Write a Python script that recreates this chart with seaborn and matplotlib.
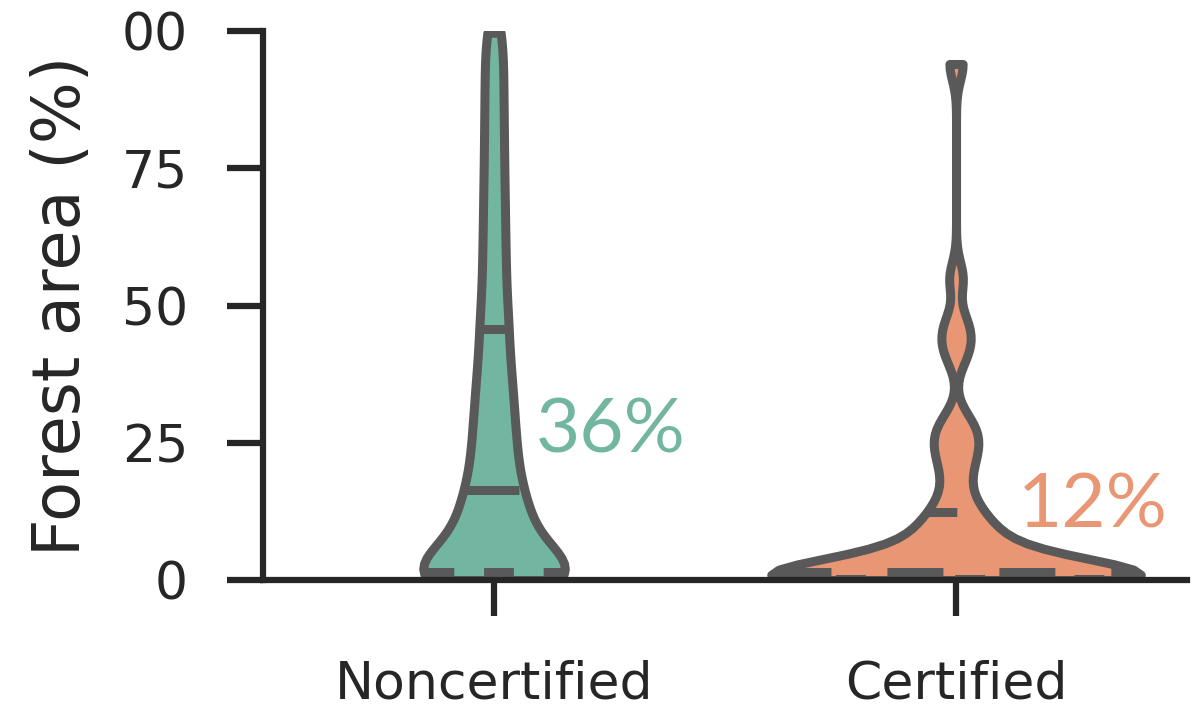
import matplotlib
matplotlib.use("Agg")
import matplotlib.pyplot as plt
import seaborn as sns
import pandas as pd

# categories and observed forest-area shares (%)
groups = ["Noncertified", "Certified"]

noncertified = [0.0, 0.0, 0.0, 0.1, 0.2, 0.3, 0.5, 0.6, 0.8, 1.0, 1.2, 1.4,
                1.6, 2.8, 4.0, 5.2, 6.4, 7.7, 9.0, 10.3, 11.6, 12.9, 14.1, 15.2,
                17.6, 19.5, 21.5, 23.6, 25.8, 28.1, 30.5, 33.0, 35.6, 38.4, 41.4, 45.0,
                48.0, 51.9, 56.0, 60.2, 64.6, 69.1, 73.8, 78.7, 83.7, 88.9, 94.2, 99.7]

certified = [0.0, 0.0, 0.0, 0.0, 0.0, 0.0, 0.0, 0.0, 0.05, 0.1, 0.15, 0.2,
             0.3, 0.4, 0.5, 0.6, 0.7, 0.8, 0.9, 1.0, 1.1, 1.2, 1.25, 1.3,
             1.5, 2.3, 3.1, 3.9, 4.7, 5.5, 6.3, 7.1, 8.0, 9.0, 10.5, 12.0,
             13.6, 17.0, 20.5, 23.0, 25.0, 27.0, 29.0, 41.0, 44.0, 47.0, 55.0, 94.0]

share_labels = ["36%", "12%"]
yticks = [0, 25, 50, 75, 100]
ytick_labels = ["0", "25", "50", "75", "00"]

df = pd.DataFrame({
    "group": [groups[0]] * len(noncertified) + [groups[1]] * len(certified),
    "area": noncertified + certified,
})

sns.set_theme(style="ticks")
plt.rcParams["font.family"] = ["DejaVu Sans"]

fig = plt.figure(figsize=(11.96, 7.09), dpi=100)
ax = fig.add_axes([0.2199, 0.1819, 0.7726, 0.7743])

pal = sns.color_palette("Set2", 2)
sns.violinplot(data=df, x="group", y="area", hue="group", order=groups,
               hue_order=groups, palette=pal, cut=0, inner="quart",
               bw_adjust=0.35, width=0.8, linewidth=6.5, linecolor="#595959",
               common_norm=True, legend=False, ax=ax)

# quartile lines: short dashes, median: long dashes
for i, line in enumerate(ax.lines):
    line.set_linewidth(6.5)
    if i % 3 == 1:
        line.set_linestyle((0, (6.2, 6.2)))
    else:
        line.set_linestyle((0, (3.3, 3.3)))

ax.set_ylim(0, 100)
ax.set_xlim(-0.5, 1.5)
ax.set_yticks(yticks)
ax.set_yticklabels(ytick_labels)
ax.set_xlabel("")
ax.set_ylabel("Forest area (%)", fontsize=47, color="#262626", labelpad=20)

for side in ["top", "right"]:
    ax.spines[side].set_visible(False)
for side in ["left", "bottom"]:
    ax.spines[side].set_linewidth(4.5)
    ax.spines[side].set_color("#262626")

ax.tick_params(axis="both", length=26, width=4.5, color="#262626",
               labelsize=37.5, labelcolor="#262626")
ax.tick_params(axis="y", pad=28)
ax.tick_params(axis="x", pad=31)

text_colors = [sns.desaturate(c, 0.75) for c in pal]
ax.text(0.09, 23.3, share_labels[0], color=text_colors[0], fontsize=55,
        family=["Lato", "DejaVu Sans"], ha="left", va="baseline")
ax.text(1.134, 9.6, share_labels[1], color=text_colors[1], fontsize=55,
        family=["Lato", "DejaVu Sans"], ha="left", va="baseline")

fig.savefig("out.png", dpi=100)
